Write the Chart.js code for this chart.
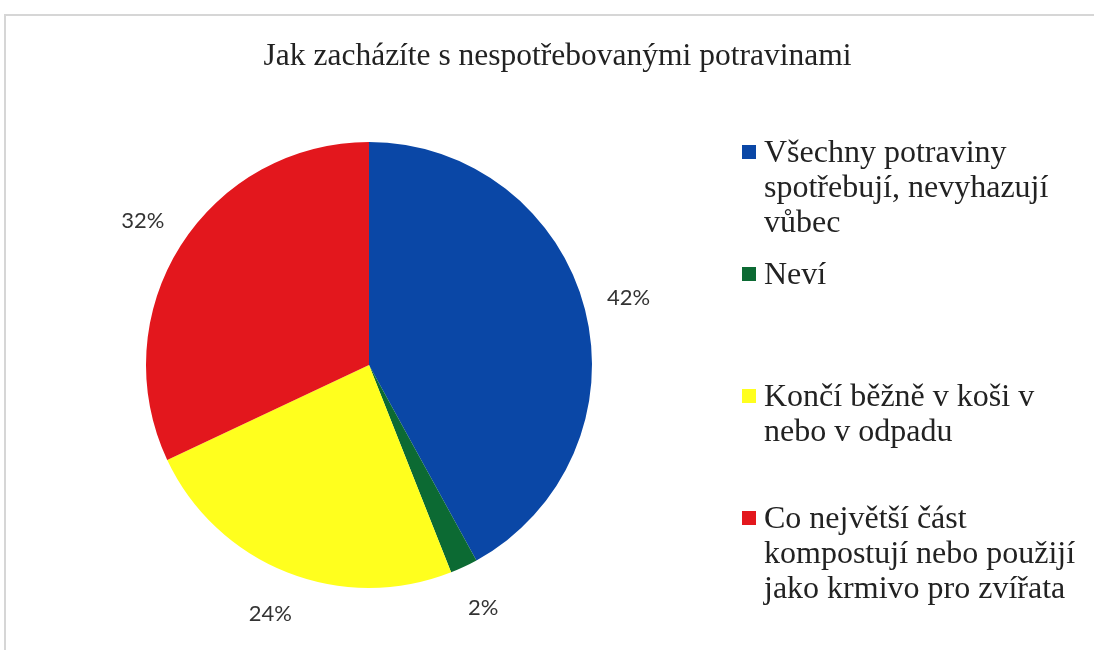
<!DOCTYPE html>
<html lang="cs">
<head>
<meta charset="utf-8">
<title>Jak zacházíte s nespotřebovanými potravinami</title>
<script src="https://cdn.jsdelivr.net/npm/chart.js@4/dist/chart.umd.min.js"></script>
<style>
    body { margin: 0; background: #fff; }
    #wrap { position: relative; width: 1094px; height: 650px; overflow: hidden; }
    #frame { position: absolute; left: 4px; top: 14px; width: 1200px; height: 700px; border: 2px solid #d6d6d6; }
    #chart { position: absolute; left: 0; top: 0; }
    h2 {
        position: absolute; left: 0; top: 37px; width: 1115px; margin: 0;
        text-align: center; font: normal 31.5px "Liberation Serif", serif; color: #222;
    }
    #legend { position: absolute; left: 742px; top: 134px; }
    .item { display: flex; align-items: flex-start; height: 122px; }
    .box { width: 14px; height: 14px; margin-top: 11px; margin-right: 8px; flex: none; }
    .text { width: 325px; font: 32px/35px "Liberation Serif", serif; color: #222; }
</style>
</head>
<body>
<div id="wrap">
    <div id="frame"></div>
    <canvas id="chart" width="1094" height="650"></canvas>
    <h2 id="title"></h2>
    <div id="legend"></div>
</div>
<script>
const chartTitle = 'Jak zacházíte s nespotřebovanými potravinami';
const categories = [
    'Všechny potraviny spotřebují, nevyhazují vůbec',
    'Neví',
    'Končí běžně v koši v nebo v odpadu',
    'Co největší část kompostují nebo použijí jako krmivo pro zvířata'
];
const shares = [42, 2, 24, 32];
const colors = ['#0a47a6', '#0c6a33', '#ffff1e', '#e3171d'];

document.getElementById('title').textContent = chartTitle;

// legend built by hand, Chart.js one can't wrap long labels
const legend = document.getElementById('legend');
categories.forEach((cat, i) => {
    const item = document.createElement('div');
    item.className = 'item';
    const box = document.createElement('span');
    box.className = 'box';
    box.style.background = colors[i];
    const text = document.createElement('span');
    text.className = 'text';
    text.textContent = cat;
    item.appendChild(box);
    item.appendChild(text);
    legend.appendChild(item);
});

// percentage labels outside the slices
const outsideLabels = {
    id: 'outsideLabels',
    afterDatasetsDraw(chart) {
        const ctx = chart.ctx;
        const meta = chart.getDatasetMeta(0);
        ctx.save();
        ctx.font = '22px Lato, "Liberation Sans", sans-serif';
        ctx.fillStyle = '#333333';
        ctx.textAlign = 'center';
        ctx.textBaseline = 'middle';
        meta.data.forEach((arc, i) => {
            const p = arc.getProps(['x', 'y', 'startAngle', 'endAngle', 'outerRadius'], true);
            const mid = (p.startAngle + p.endAngle) / 2;
            const r = p.outerRadius + 45;
            ctx.fillText(shares[i] + '%', p.x + Math.cos(mid) * r, p.y + Math.sin(mid) * r);
        });
        ctx.restore();
    }
};

new Chart(document.getElementById('chart'), {
    type: 'pie',
    data: {
        labels: categories,
        datasets: [{
            data: shares,
            backgroundColor: colors,
            borderWidth: 0
        }]
    },
    options: {
        responsive: false,
        animation: false,
        layout: {
            padding: { left: 146, right: 502, top: 142, bottom: 62 }
        },
        plugins: {
            legend: { display: false },
            tooltip: { enabled: false }
        }
    },
    plugins: [outsideLabels]
});
</script>
</body>
</html>
